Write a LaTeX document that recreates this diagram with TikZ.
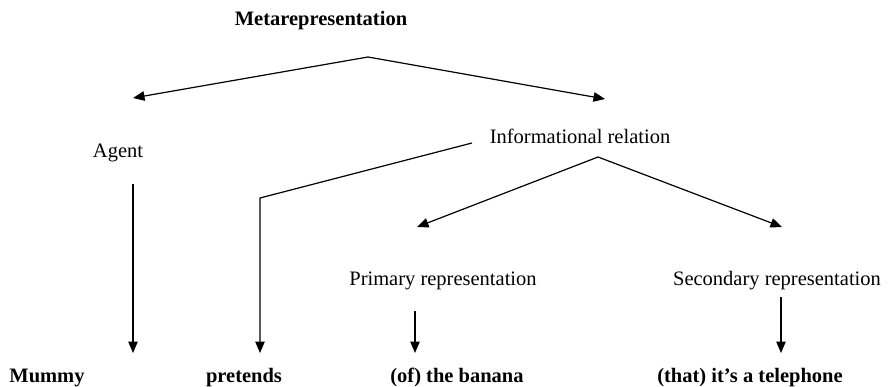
\documentclass[tikz,border=0pt]{standalone}
\usepackage{fontspec}
\setmainfont{Liberation Serif}
\usetikzlibrary{arrows.meta}
\begin{document}
\begin{tikzpicture}[x=1pt,y=-1pt,
  lbl/.style={anchor=base,inner sep=0pt,font=\fontsize{20.5}{24}\selectfont},
  blbl/.style={lbl,font=\fontsize{20.5}{24}\selectfont\bfseries},
  arr/.style={line width=1.2pt,-{Triangle[length=11.5pt,width=9.5pt]}},
  ln/.style={line width=1.2pt}]
\useasboundingbox (0,0) rectangle (891,387);
\node[blbl] (meta) at (321,26) {Metarepresentation};
\node[lbl] (agent) at (118,158) {Agent};
\node[lbl] (info) at (580,144) {Informational relation};
\node[lbl] (prim) at (443,285) {Primary representation};
\node[lbl] (sec) at (777,285) {Secondary representation};
\node[blbl] (mummy) at (47,382) {Mummy};
\node[blbl] (pret) at (244,382) {pretends};
\node[blbl] (banana) at (457,382) {(of) the banana};
\node[blbl] (tel) at (750,382) {(that) it’s a telephone};
% coordinates
\coordinate (mapex) at (368,57);
\coordinate (mleft) at (133,98);
\coordinate (mright) at (605,99);
\coordinate (agtop) at (133,184);
\coordinate (agbot) at (133,353);
\coordinate (ptop) at (472,143);
\coordinate (pknee) at (260,198);
\coordinate (pbot) at (260,353);
\coordinate (iapex) at (598,157);
\coordinate (ileft) at (417,227);
\coordinate (iright) at (782,227);
\coordinate (prtop) at (415,311);
\coordinate (prbot) at (415,353);
\coordinate (sctop) at (781,297);
\coordinate (scbot) at (781,353);
\draw[arr] (mapex) -- (mleft);
\draw[arr] (mapex) -- (mright);
\draw[arr] (agtop) -- (agbot);
\draw[arr] (ptop) -- (pknee) -- (pbot);
\draw[arr] (iapex) -- (ileft);
\draw[arr] (iapex) -- (iright);
\draw[arr] (prtop) -- (prbot);
\draw[arr] (sctop) -- (scbot);
\end{tikzpicture}
\end{document}
